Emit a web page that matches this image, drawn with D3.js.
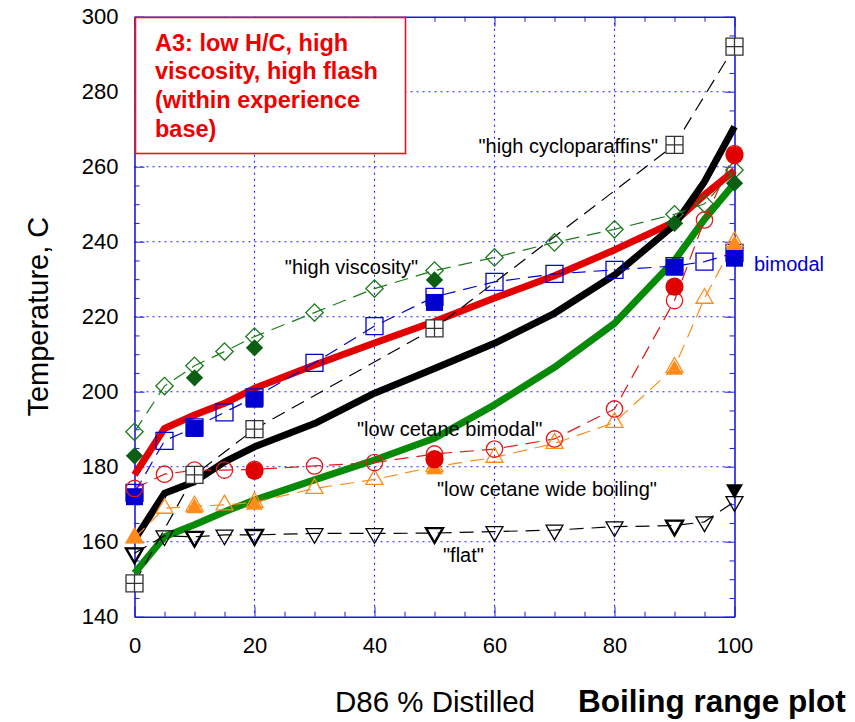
<!DOCTYPE html>
<html>
<head>
<meta charset="utf-8">
<script src="https://cdn.jsdelivr.net/npm/d3@7"></script>
<style>
  body { margin: 0; background: #fff; }
  svg { font-family: "Liberation Sans", Arial, sans-serif; }
</style>
</head>
<body>
<div id="chart"></div>
<script>
// tick labels
const xTicks = [0, 20, 40, 60, 80, 100];
const yTicks = [140, 160, 180, 200, 220, 240, 260, 280, 300];

// % distilled positions
const pctFine = [0, 5, 10, 15, 20, 30, 40, 50, 60, 70, 80, 90, 95, 100];
const pctCoarse = [0, 10, 20, 50, 90, 100];

// thick solid curves
const a3Line = [177.8, 190.2, 193.8, 196.9, 200.9, 207.1, 213.0, 218.7, 225.0, 230.9, 237.8, 245.3, 252.5, 259.0];
const blackLine = [160.5, 172.9, 176.0, 181.3, 185.3, 191.5, 199.6, 206.2, 212.9, 220.9, 231.1, 244.5, 256.0, 270.7];
const greenLine = [151.6, 161.3, 164.5, 168.0, 171.1, 176.5, 181.8, 187.6, 196.5, 206.5, 218.2, 235.0, 246.0, 255.6];

// open markers + dashed lines
const highViscosity = [189.3, 201.5, 206.9, 210.7, 214.7, 221.1, 227.5, 232.3, 235.8, 239.8, 243.3, 247.3, 250.1, 259.1];
const bimodal = [173.0, 186.9, 190.5, 194.5, 198.5, 207.7, 217.5, 225.3, 229.3, 231.4, 232.5, 233.5, 234.7, 237.0];
const lowCetaneBimodal = [174.2, 178.0, 179.1, 179.1, 179.3, 180.2, 181.1, 183.4, 184.7, 187.4, 195.4, 224.3, 245.8, 263.5];
const lowCetaneWide = [161.0, 168.9, 169.5, 169.8, 170.5, 174.2, 176.6, 180.0, 182.5, 186.2, 191.8, 206.5, 224.9, 240.0];
const flat = [156.9, 161.6, 161.3, 161.8, 161.8, 162.2, 162.2, 162.3, 162.7, 163.1, 164.0, 164.3, 165.3, 170.7];
const highCyclo = [148.9, 177.8, 190.0, 216.9, 265.8, 292.0];

// filled markers (no line)
const viscosityFilled = [182.9, 203.7, 211.7, 229.8, 244.9, 255.6];
const bimodalFilled = [172.0, 190.2, 198.0, 223.8, 233.2, 235.6];
const lowCetaneWideFilled = [160.9, 168.9, 169.8, 179.3, 205.8, 239.1];
const redFilledPct = [20, 50, 90, 100];
const lowCetaneBimodalFilled = [178.9, 182.0, 228.0, 263.1];
const flatBoldPct = [0, 10, 20, 50, 90];
const flatBold = [156.9, 161.3, 161.8, 162.3, 164.3];
const flatFilledPct = [100];
const flatFilled = [174.0];

const W = 855, H = 722;
const svg = d3.select("#chart").append("svg")
  .attr("width", W).attr("height", H);

const x = d3.scaleLinear().domain([0, 100]).range([134.5, 734.5]);
const y = d3.scaleLinear().domain([140, 300]).range([616.7, 16.7]);

const axisBlue = "#1a1ae6";

/* grid */
const grid = svg.append("g");
grid.selectAll(".gx").data(xTicks.slice(1, -1)).join("line")
  .attr("x1", d => x(d)).attr("x2", d => x(d))
  .attr("y1", y(300)).attr("y2", y(140))
  .attr("stroke", "#2020ff").attr("stroke-width", 1.1)
  .attr("stroke-dasharray", "2,4");
grid.selectAll(".gy").data(yTicks.slice(1, -1)).join("line")
  .attr("x1", x(0)).attr("x2", x(100))
  .attr("y1", d => y(d)).attr("y2", d => y(d))
  .attr("stroke", "#2020ff").attr("stroke-width", 1.1)
  .attr("stroke-dasharray", "2,4");

/* axes: inner ticks on all four sides */
const xMinor = d3.range(0, 101, 5);
const yMinor = d3.range(140, 301, 5);
function styleAxis(g) {
  g.selectAll("path").attr("stroke", axisBlue).attr("stroke-width", 1.6);
  g.selectAll("line").attr("stroke", axisBlue).attr("stroke-width", 1);
  g.selectAll("text").remove();
}
[["bottom", d3.axisTop(x), y(140)], ["top", d3.axisBottom(x), y(300)]].forEach(([k, ax, ty]) => {
  const g = svg.append("g").attr("transform", `translate(0,${ty})`)
    .call(ax.tickValues(xMinor).tickSizeOuter(0).tickFormat(""));
  g.selectAll(".tick line").attr("y2", d => (k === "bottom" ? -1 : 1) * (xTicks.includes(d) ? 10 : 5));
  styleAxis(g);
});
[["left", d3.axisRight(y), x(0)], ["right", d3.axisLeft(y), x(100)]].forEach(([k, ax, tx]) => {
  const g = svg.append("g").attr("transform", `translate(${tx},0)`)
    .call(ax.tickValues(yMinor).tickSizeOuter(0).tickFormat(""));
  g.selectAll(".tick line").attr("x2", d => (k === "left" ? 1 : -1) * (yTicks.includes(d) ? 10 : 5));
  styleAxis(g);
});

/* tick labels */
const xLab = svg.append("g").attr("transform", `translate(0,${y(140) + 21})`)
  .call(d3.axisBottom(x).tickValues(xTicks).tickSize(0).tickPadding(0));
xLab.select(".domain").remove();
xLab.selectAll("text").attr("font-size", 22).attr("fill", "#000")
  .attr("font-family", "Liberation Sans, Arial, sans-serif").attr("dy", "0.71em");
const yLab = svg.append("g").attr("transform", `translate(${x(0) - 16},0)`)
  .call(d3.axisLeft(y).tickValues(yTicks).tickSize(0).tickPadding(0));
yLab.select(".domain").remove();
yLab.selectAll("text").attr("font-size", 22).attr("fill", "#000")
  .attr("font-family", "Liberation Sans, Arial, sans-serif");

/* axis titles */
svg.append("text")
  .attr("transform", `translate(48,${(y(140) + y(300)) / 2}) rotate(-90)`)
  .attr("text-anchor", "middle")
  .attr("font-size", 29)
  .text("Temperature, C");
svg.append("text").attr("x", 335).attr("y", 712)
  .attr("font-size", 29.5).text("D86 % Distilled");
svg.append("text").attr("x", 578).attr("y", 712)
  .attr("font-size", 31.5).attr("font-weight", "bold").text("Boiling range plot");

/* helpers */
const line = d3.line().x(d => x(d[0])).y(d => y(d[1]));
const zip = (xs, ys) => xs.map((v, i) => [v, ys[i]]);

function thick(vals, color) {
  svg.append("path").datum(zip(pctFine, vals))
    .attr("d", line).attr("fill", "none")
    .attr("stroke", color).attr("stroke-width", 7)
    .attr("stroke-linejoin", "round");
}
function dashed(xs, vals, color) {
  svg.append("path").datum(zip(xs, vals))
    .attr("d", line).attr("fill", "none")
    .attr("stroke", color).attr("stroke-width", 1.2)
    .attr("stroke-dasharray", "14,8");
}
function markers(xs, vals, shape, opts) {
  svg.append("g").selectAll("path").data(zip(xs, vals)).join("path")
    .attr("transform", d => `translate(${x(d[0])},${y(d[1])}) rotate(${opts.rotate || 0})`)
    .attr("d", shape)
    .attr("fill", opts.fill || "none")
    .attr("stroke", opts.stroke || "none")
    .attr("stroke-width", opts.width || 1.3);
}
const sq = d3.symbol(d3.symbolSquare, 289)();
const diamond = d3.symbol(d3.symbolSquare, 150)();
const circ = d3.symbol(d3.symbolCircle, 210)();
const circBig = d3.symbol(d3.symbolCircle, 260)();
const tri = d3.symbol(d3.symbolTriangle, 125)();
const crossSq = sq + "M-8.5,0H8.5M0,-8.5V8.5";

/* thick curves */
thick(a3Line, "#e30000");
thick(blackLine, "#000");
thick(greenLine, "#078a07");

/* dashed series */
dashed(pctCoarse, highCyclo, "#000");
dashed(pctFine, highViscosity, "#1e7a1e");
dashed(pctFine, bimodal, "#0000d4");
dashed(pctFine, lowCetaneBimodal, "#e31a1a");
dashed(pctFine, lowCetaneWide, "#ff8c1a");
dashed(pctFine, flat, "#000");

/* markers */
markers(pctFine, highViscosity, diamond, {stroke: "#1e7a1e", rotate: 45});
markers(pctCoarse, viscosityFilled, diamond, {fill: "#0b5e14", rotate: 45});
markers(pctFine, bimodal, sq, {stroke: "#0000d4"});
markers(pctCoarse, bimodalFilled, sq, {fill: "#0000d0"});
markers(pctFine, lowCetaneWide, tri, {stroke: "#ff8c1a"});
markers(pctCoarse, lowCetaneWideFilled, tri, {fill: "#ff8c1a"});
markers(pctFine, lowCetaneBimodal, circ, {stroke: "#e31a1a"});
markers(redFilledPct, lowCetaneBimodalFilled, circBig, {fill: "#e00000"});
markers(pctFine, flat, tri, {stroke: "#000", rotate: 180});
markers(flatBoldPct, flatBold, tri, {stroke: "#000", rotate: 180, width: 2.4});
markers(flatFilledPct, flatFilled, tri, {fill: "#000", rotate: 180});
markers(pctCoarse, highCyclo, crossSq, {fill: "#fff", stroke: "#333", width: 1.3});

/* annotations */
const notes = [
  ['"high cycloparaffins"', 658, 153, "end", "#000"],
  ['"high viscosity"', 418, 274, "end", "#000"],
  ["bimodal", 754, 271, "start", "#0000cc"],
  ['"low cetane bimodal"', 357, 436, "start", "#000"],
  ['"low cetane wide boiling"', 437, 496, "start", "#000"],
  ['"flat"', 443, 562, "start", "#000"]
];
svg.append("g").selectAll("text").data(notes).join("text")
  .attr("x", d => d[1]).attr("y", d => d[2])
  .attr("text-anchor", d => d[3]).attr("fill", d => d[4])
  .attr("font-size", 20)
  .text(d => d[0]);

/* A3 box */
svg.append("rect").attr("x", 135.5).attr("y", 17.5)
  .attr("width", 270).attr("height", 136)
  .attr("fill", "#fff").attr("stroke", "#e8141e").attr("stroke-width", 1.6);
const boxLines = ["A3: low H/C, high", "viscosity, high flash", "(within experience", "base)"];
svg.append("g").selectAll("text").data(boxLines).join("text")
  .attr("x", 155).attr("y", (d, i) => 50.7 + i * 28.7)
  .attr("font-size", 23.5).attr("font-weight", "bold").attr("fill", "#f00000")
  .text(d => d);
</script>
</body>
</html>
